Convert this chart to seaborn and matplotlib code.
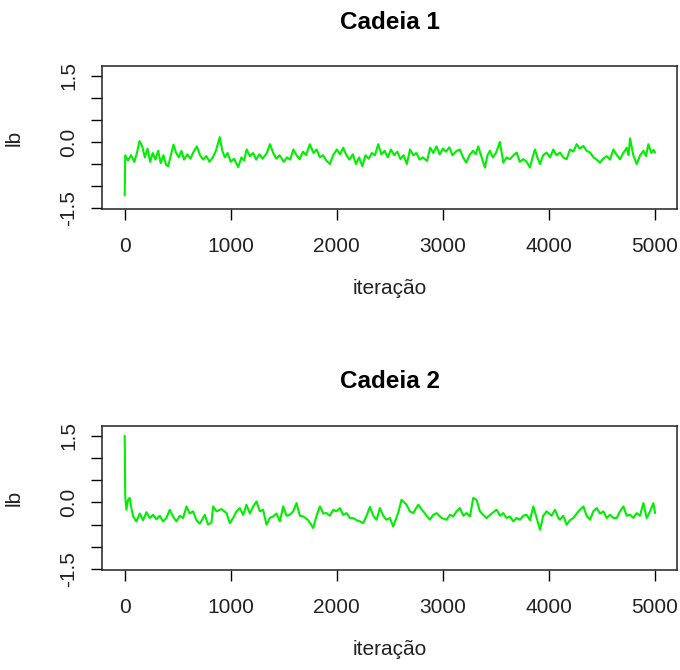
import matplotlib
matplotlib.use("Agg")
import matplotlib.pyplot as plt
import seaborn as sns
import pandas as pd

# ---------------- data ----------------
iter_chain1 = [0, 5, 30, 60, 90, 115, 140, 165, 190, 215, 240, 265, 290, 315, 340, 365, 390, 410,
               435, 460, 485, 510, 535, 560, 590, 620, 650, 680, 710, 740, 770, 800, 830, 860, 896,
               920, 945, 970, 1000, 1030, 1070, 1100, 1125, 1150, 1180, 1210, 1240, 1270, 1300,
               1340, 1370, 1400, 1430, 1460, 1500, 1530, 1560, 1590, 1620, 1650, 1680, 1710, 1745,
               1780, 1810, 1840, 1870, 1900, 1935, 1965, 2000, 2030, 2060, 2090, 2120, 2150, 2180,
               2210, 2240, 2270, 2300, 2330, 2360, 2390, 2420, 2450, 2480, 2510, 2540, 2570, 2600,
               2630, 2660, 2690, 2720, 2750, 2780, 2810, 2850, 2880, 2910, 2940, 2970, 3000, 3030,
               3060, 3090, 3130, 3160, 3190, 3220, 3250, 3285, 3310, 3333, 3365, 3396, 3420, 3443,
               3470, 3500, 3537, 3570, 3600, 3632, 3665, 3695, 3725, 3758, 3790, 3820, 3845, 3868,
               3890, 3915, 3945, 3978, 4010, 4041, 4070, 4104, 4135, 4167, 4198, 4230, 4261, 4290,
               4324, 4355, 4387, 4420, 4450, 4481, 4510, 4544, 4575, 4607, 4640, 4670, 4700, 4733,
               4750, 4764, 4795, 4827, 4860, 4890, 4915, 4937, 4965, 4985, 5000]
lb_chain1 = [-1.21, -0.30, -0.42, -0.30, -0.45, -0.25, 0.02, -0.10, -0.35, -0.15, -0.45, -0.25,
             -0.40, -0.20, -0.48, -0.30, -0.52, -0.55, -0.30, -0.06, -0.25, -0.35, -0.20, -0.40,
             -0.28, -0.38, -0.22, -0.10, -0.30, -0.40, -0.32, -0.45, -0.35, -0.20, 0.11, -0.20,
             -0.35, -0.25, -0.45, -0.38, -0.57, -0.35, -0.42, -0.17, -0.32, -0.25, -0.40, -0.28,
             -0.38, -0.25, -0.05, -0.25, -0.38, -0.30, -0.45, -0.35, -0.40, -0.17, -0.30, -0.39,
             -0.22, -0.30, -0.05, -0.25, -0.17, -0.35, -0.30, -0.42, -0.50, -0.30, -0.17, -0.28,
             -0.13, -0.30, -0.40, -0.28, -0.50, -0.35, -0.55, -0.30, -0.38, -0.25, -0.30, -0.05,
             -0.28, -0.20, -0.35, -0.17, -0.30, -0.22, -0.39, -0.30, -0.50, -0.17, -0.30, -0.25,
             -0.40, -0.35, -0.43, -0.13, -0.25, -0.10, -0.28, -0.15, -0.22, -0.12, -0.30, -0.20,
             -0.17, -0.35, -0.47, -0.30, -0.20, -0.28, -0.10, -0.35, -0.58, -0.30, -0.20, -0.35,
             -0.25, 0.00, -0.47, -0.35, -0.39, -0.30, -0.24, -0.45, -0.39, -0.45, -0.58, -0.35,
             -0.17, -0.35, -0.50, -0.30, -0.24, -0.35, -0.17, -0.30, -0.24, -0.35, -0.39, -0.17,
             -0.22, -0.05, -0.15, -0.09, -0.20, -0.24, -0.35, -0.40, -0.47, -0.38, -0.32, -0.40,
             -0.17, -0.30, -0.39, -0.25, -0.13, -0.30, 0.08, -0.30, -0.50, -0.30, -0.20, -0.32,
             -0.05, -0.25, -0.18, -0.24]

iter_chain2 = [0, 3, 5, 16, 32, 47, 63, 79, 110, 142, 173, 205, 236, 268, 299, 330, 362, 393, 425,
               456, 488, 519, 551, 582, 613, 645, 676, 708, 755, 786, 818, 834, 865, 912, 960, 991,
               1022, 1054, 1085, 1117, 1148, 1180, 1211, 1243, 1274, 1305, 1337, 1368, 1400, 1431,
               1463, 1494, 1526, 1557, 1588, 1620, 1651, 1683, 1730, 1777, 1809, 1840, 1872, 1903,
               1934, 1966, 1997, 2029, 2060, 2092, 2123, 2155, 2186, 2217, 2249, 2280, 2312, 2343,
               2375, 2406, 2437, 2468, 2500, 2531, 2578, 2610, 2657, 2688, 2720, 2767, 2814, 2846,
               2877, 2909, 2940, 2987, 3034, 3066, 3097, 3129, 3160, 3192, 3223, 3255, 3286, 3317,
               3349, 3380, 3412, 3459, 3506, 3538, 3569, 3600, 3632, 3663, 3695, 3726, 3758, 3789,
               3821, 3852, 3884, 3915, 3946, 3978, 4025, 4056, 4088, 4104, 4135, 4167, 4198, 4230,
               4261, 4292, 4324, 4355, 4387, 4418, 4450, 4481, 4513, 4544, 4575, 4607, 4638, 4670,
               4701, 4733, 4764, 4796, 4827, 4858, 4890, 4921, 4953, 4984, 5000]
lb_chain2 = [1.50, 0.60, 0.135, -0.165, 0.06, 0.10, -0.13, -0.31, -0.43, -0.25, -0.40, -0.22,
             -0.35, -0.28, -0.38, -0.30, -0.43, -0.35, -0.165, -0.32, -0.427, -0.30, -0.35, -0.09,
             -0.25, -0.20, -0.40, -0.48, -0.28, -0.50, -0.45, -0.09, -0.20, -0.15, -0.24, -0.465,
             -0.35, -0.20, -0.127, -0.28, -0.052, -0.25, -0.09, 0.023, -0.20, -0.165, -0.502,
             -0.35, -0.315, -0.25, -0.427, -0.09, -0.30, -0.277, -0.20, -0.015, -0.30, -0.315,
             -0.40, -0.577, -0.30, -0.09, -0.25, -0.24, -0.30, -0.165, -0.20, -0.127, -0.28,
             -0.24, -0.35, -0.352, -0.40, -0.427, -0.465, -0.30, -0.10, -0.30, -0.39, -0.127,
             -0.30, -0.39, -0.35, -0.54, -0.24, 0.06, -0.052, -0.20, -0.24, -0.052, -0.202, -0.30,
             -0.39, -0.28, -0.24, -0.35, -0.39, -0.28, -0.315, -0.20, -0.127, -0.30, -0.24,
             -0.315, 0.10, 0.06, -0.202, -0.28, -0.352, -0.25, -0.165, -0.30, -0.24, -0.35,
             -0.315, -0.427, -0.35, -0.39, -0.30, -0.277, -0.40, -0.09, -0.35, -0.615, -0.30,
             -0.202, -0.30, -0.165, -0.35, -0.39, -0.30, -0.502, -0.40, -0.352, -0.25, -0.165,
             -0.09, -0.30, -0.39, -0.20, -0.127, -0.25, -0.202, -0.35, -0.277, -0.35, -0.352,
             -0.20, -0.09, -0.30, -0.277, -0.35, -0.24, -0.30, -0.015, -0.352, -0.20, -0.015,
             -0.24]

panel_titles = ["Cadeia 1", "Cadeia 2"]
x_label = "iteração"
y_label = "lb"
x_ticks = [0, 1000, 2000, 3000, 4000, 5000]
x_tick_labels = ["0", "1000", "2000", "3000", "4000", "5000"]
y_ticks = [-1.5, -1.0, -0.5, 0.0, 0.5, 1.0, 1.5]
y_tick_labels = ["-1.5", "", "", "0.0", "", "", "1.5"]

# ---------------- style ----------------
sns.set_theme(style="ticks")
plt.rcParams["font.family"] = ["Liberation Sans", "DejaVu Sans"]
plt.rcParams["axes.linewidth"] = 1.1
plt.rcParams["xtick.major.size"] = 8
plt.rcParams["ytick.major.size"] = 8
plt.rcParams["xtick.major.width"] = 1.0
plt.rcParams["ytick.major.width"] = 1.0
plt.rcParams["xtick.color"] = "black"
plt.rcParams["ytick.color"] = "black"
plt.rcParams["axes.edgecolor"] = "#222222"

line_color = "#00ee00"

fig = plt.figure(figsize=(6.8, 6.7), dpi=100)
ax1 = fig.add_axes([0.150, 0.688, 0.8456, 0.2134])
ax2 = fig.add_axes([0.150, 0.1493, 0.8456, 0.2149])

chains = [(ax1, iter_chain1, lb_chain1, panel_titles[0]),
          (ax2, iter_chain2, lb_chain2, panel_titles[1])]

for ax, it, vals, title in chains:
    df = pd.DataFrame({"iteracao": it, "lb": vals})
    sns.lineplot(data=df, x="iteracao", y="lb", ax=ax, color=line_color,
                 linewidth=1.5, sort=False, estimator=None)
    ax.set_xlim(-214, 5207)
    ax.set_ylim(-1.52, 1.72)
    ax.set_xticks(x_ticks)
    ax.set_xticklabels(x_tick_labels, fontsize=15, color="#222222")
    ax.set_yticks(y_ticks)
    ax.set_yticklabels(y_tick_labels, fontsize=15, rotation=90, va="center", color="#222222")
    ax.tick_params(axis="x", pad=12)
    ax.tick_params(axis="y", pad=9)
    ax.set_xlabel(x_label, fontsize=15, labelpad=17, color="#222222")
    ax.set_ylabel(y_label, fontsize=15, labelpad=26, color="#222222")
    ax.set_title(title, fontsize=17.5, fontweight="bold", pad=27, color="black")
    for s in ax.spines.values():
        s.set_visible(True)
        s.set_color("#222222")

fig.savefig("out.png", dpi=100)
